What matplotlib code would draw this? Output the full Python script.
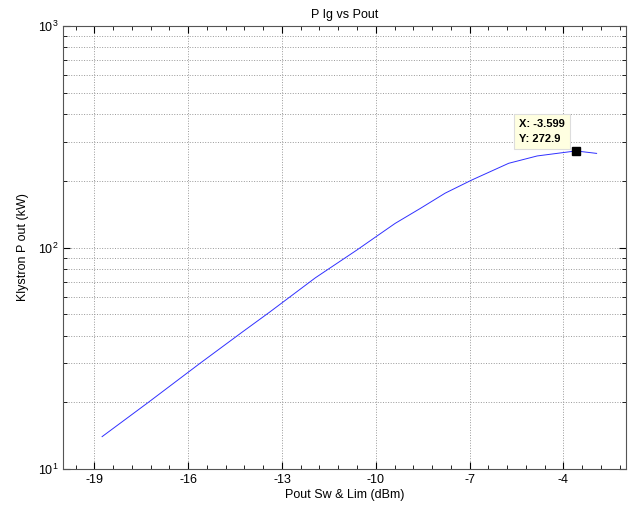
import matplotlib
matplotlib.use("Agg")
import matplotlib.pyplot as plt
import matplotlib.ticker as mticker
import numpy as np

plt.rcParams['font.family'] = ['Liberation Sans', 'DejaVu Sans']
plt.rcParams['mathtext.fontset'] = 'custom'
plt.rcParams['mathtext.rm'] = 'Liberation Sans'
plt.rcParams['axes.unicode_minus'] = False

# === Data ===
pout_dbm = [-18.75, -17.27, -15.62, -14.27, -13.40, -11.93, -10.60,
            -9.91, -9.38, -8.58, -7.78, -6.92, -5.75, -4.84,
            -3.599, -2.94]
klystron_kw = [14.0, 20.0, 30.0, 41.5, 51.0, 73.0, 97.5,
               114.0, 128.5, 150.0, 176.0, 202.0, 240.0, 259.0,
               272.9, 266.0]

tip_x = -3.599
tip_y = 272.9

x_ticks = [-19, -16, -13, -10, -7, -4]

# === Plot ===
fig = plt.figure(figsize=(6.32, 5.05), dpi=100)
ax = fig.add_axes([63/632, 1 - 469/505, (626-63)/632, (469-26)/505])

ax.plot(pout_dbm, klystron_kw, color='#3030ff', lw=0.7)
ax.set_yscale('log')
ax.set_xlim(-20, -2)
ax.set_ylim(10, 1000)

ax.xaxis.set_major_locator(mticker.FixedLocator(x_ticks))
ax.xaxis.set_minor_locator(mticker.FixedLocator(np.arange(-19.6, -2, 0.6)))
ax.yaxis.set_major_locator(mticker.LogLocator(base=10))
ax.yaxis.set_minor_locator(mticker.LogLocator(base=10, subs=np.arange(2, 10)))
ax.yaxis.set_minor_formatter(mticker.NullFormatter())

ax.tick_params(which='both', direction='in', top=True, right=True,
               labelsize=9, colors='black')
ax.tick_params(which='major', length=5)
ax.tick_params(which='minor', length=3)

ax.grid(True, which='major', axis='both', linestyle=':', color='#999999', lw=0.7)
ax.grid(True, which='minor', axis='y', linestyle=':', color='#999999', lw=0.7)
for s in ax.spines.values():
    s.set_color('#555555')

# data tip
ax.plot([tip_x], [tip_y], 's', color='black', ms=6, zorder=5)
ax.annotate(f"X: {tip_x}\nY: {tip_y}", xy=(tip_x, tip_y), xytext=(-41, 5),
            textcoords='offset points', ha='left', va='bottom', fontsize=8,
            fontweight='bold', linespacing=1.6,
            bbox=dict(boxstyle='square,pad=0.45', fc='#ffffe1', ec='#dddddd', lw=0.8))

ax.set_title("P Ig vs Pout", fontsize=9, pad=6)
ax.set_xlabel("Pout Sw & Lim (dBm)", fontsize=9, labelpad=2)
ax.set_ylabel("Klystron P out (kW)", fontsize=9, labelpad=6)

fig.savefig("out.png", dpi=100, facecolor='white')
